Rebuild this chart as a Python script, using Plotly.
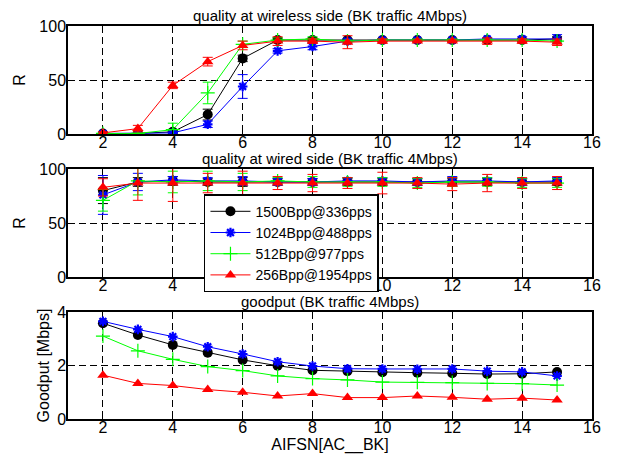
import plotly.graph_objects as go

x = list(range(2, 16))
names = ["1500Bpp@336pps", "1024Bpp@488pps", "512Bpp@977pps", "256Bpp@1954pps"]
colors = ["#000000", "#0000ff", "#00ff00", "#ff0000"]

# quality at wireless side (R)
wl_black = [0.5, 0.5, 2, 18, 70, 87, 87, 87, 87, 87, 87, 87, 87, 88]
wl_blue = [0.5, 0.5, 1, 9, 44, 77, 81, 86, 87, 87, 87, 88, 88, 88]
wl_green = [0.5, 0.5, 4, 38, 83, 87, 88, 86, 87, 87, 87, 87, 87, 86]
wl_red = [1, 5, 45, 67, 82, 86, 86, 85, 86, 86, 86, 86, 86, 85]
wl_black_err = [0.5, 0.5, 1, 5, 3, 2, 2, 1, 1, 1, 1, 1, 1, 2]
wl_blue_err = [0.5, 0.5, 1, 3, 11, 2, 3, 2, 1, 1, 1, 1, 2, 4]
wl_green_err = [0.5, 0.5, 6, 10, 3, 2, 2, 1, 1, 1, 1, 1, 1, 1]
wl_red_err = [1, 3, 3, 4, 4, 4, 2, 6, 2, 1, 1, 3, 2, 3]

# quality at wired side (R)
wd_black = [80, 88, 89, 88, 88, 88, 88, 88, 88, 88, 88, 88, 88, 88]
wd_blue = [76, 88, 90, 89, 89, 88, 88, 89, 89, 88, 89, 89, 88, 89]
wd_green = [71, 89, 88, 89, 88, 89, 88, 88, 88, 87, 88, 88, 87, 87]
wd_red = [83, 87, 87, 87, 87, 87, 87, 87, 87, 87, 86, 87, 87, 87]
wd_black_err = [12, 4, 4, 3, 4, 3, 3, 3, 3, 3, 3, 3, 3, 3]
wd_blue_err = [18, 8, 3, 3, 4, 3, 3, 3, 3, 3, 4, 3, 3, 3]
wd_green_err = [10, 13, 10, 9, 8, 3, 5, 4, 4, 4, 4, 4, 4, 4]
wd_red_err = [8, 16, 17, 9, 11, 6, 8, 5, 10, 5, 6, 8, 5, 6]

# goodput [Mbps]
gp_black = [3.58, 3.14, 2.77, 2.48, 2.21, 1.99, 1.82, 1.79, 1.75, 1.73, 1.71, 1.68, 1.69, 1.76]
gp_blue = [3.65, 3.35, 3.08, 2.70, 2.43, 2.14, 1.98, 1.88, 1.87, 1.86, 1.87, 1.79, 1.76, 1.61]
gp_green = [3.10, 2.55, 2.23, 1.96, 1.81, 1.61, 1.51, 1.46, 1.38, 1.37, 1.36, 1.33, 1.32, 1.27]
gp_red = [1.64, 1.33, 1.25, 1.10, 1.00, 0.86, 0.95, 0.80, 0.80, 0.86, 0.81, 0.74, 0.78, 0.71]

x_ticks = [2, 4, 6, 8, 10, 12, 14, 16]
titles = ["quality at wireless side (BK traffic 4Mbps)",
          "quality at wired side (BK traffic 4Mbps)",
          "goodput (BK traffic 4Mbps)"]

FONT = "Liberation Sans, Arial, sans-serif"
fig = go.Figure()

wl = [(wl_black, wl_black_err), (wl_blue, wl_blue_err), (wl_green, wl_green_err), (wl_red, wl_red_err)]
wd = [(wd_black, wd_black_err), (wd_blue, wd_blue_err), (wd_green, wd_green_err), (wd_red, wd_red_err)]
gp = [gp_black, gp_blue, gp_green, gp_red]


def marker(i):
    if i == 0:
        return dict(symbol="circle", size=10, color=colors[i])
    if i == 1:
        return dict(symbol="asterisk", size=8, color=colors[i], line=dict(color=colors[i], width=2.2))
    if i == 2:
        return dict(symbol="cross-thin", size=10, color=colors[i], line=dict(color=colors[i], width=1.2))
    return dict(symbol="triangle-up", size=10, color=colors[i])


for i in range(4):
    y, e = wl[i]
    fig.add_trace(go.Scatter(x=x, y=y, mode="lines+markers", name=names[i],
                             line=dict(color=colors[i], width=1), marker=marker(i),
                             error_y=dict(type="data", array=e, color=colors[i], thickness=1, width=5),
                             xaxis="x", yaxis="y", showlegend=False))
for i in range(4):
    y, e = wd[i]
    fig.add_trace(go.Scatter(x=x, y=y, mode="lines+markers", name=names[i],
                             line=dict(color=colors[i], width=1), marker=marker(i),
                             error_y=dict(type="data", array=e, color=colors[i], thickness=1, width=5),
                             xaxis="x2", yaxis="y2", showlegend=True))
for i in range(4):
    fig.add_trace(go.Scatter(x=x, y=gp[i], mode="lines+markers", name=names[i],
                             line=dict(color=colors[i], width=1), marker=marker(i),
                             xaxis="x3", yaxis="y3", showlegend=False))

axis_common = dict(showline=True, linecolor="black", linewidth=1.5, mirror=True,
                   showgrid=True, gridcolor="black", griddash="7px,4px", gridwidth=1,
                   zeroline=False, ticks="inside", ticklen=4, tickcolor="black",
                   automargin=False,
                   tickfont=dict(size=16, color="black", family=FONT))

doms = [[0.7252, 1.0], [0.3613, 0.6361], [0.0, 0.2723]]
ytitles = ["R", "R", "Goodput [Mbps]"]
ystand = [10, 10, 4]
yranges = [[0, 100], [0, 100], [0, 4]]
yticks = [[0, 50, 100], [0, 50, 100], [0, 2, 4]]

layout = dict(width=618, height=458, margin=dict(l=68, r=26, t=26, b=39),
              paper_bgcolor="white", plot_bgcolor="white",
              font=dict(family=FONT, color="black"),
              legend=dict(x=0.2595, y=0.572, xanchor="left", yanchor="top",
                          bordercolor="black", borderwidth=1.5, bgcolor="white",
                          font=dict(size=14, family=FONT, color="black"),
                          tracegroupgap=0, itemwidth=40),
              annotations=[])
for k in range(3):
    sx = "xaxis" if k == 0 else f"xaxis{k+1}"
    sy = "yaxis" if k == 0 else f"yaxis{k+1}"
    ax = dict(axis_common, range=[1, 16], tickvals=x_ticks, anchor="y" if k == 0 else f"y{k+1}",
              ticklabelstandoff=-7)
    if k == 2:
        ax["title"] = dict(text="AIFSN[AC__BK]", font=dict(size=16, family=FONT, color="black"), standoff=4)
    layout[sx] = ax
    layout[sy] = dict(axis_common, range=yranges[k], tickvals=yticks[k], domain=doms[k],
                      anchor="x" if k == 0 else f"x{k+1}", ticklabelstandoff=-3,
                      title=dict(text=ytitles[k], font=dict(size=16, family=FONT, color="black"),
                                 standoff=ystand[k]))
    layout["annotations"].append(dict(text=titles[k], xref="paper", yref="paper", x=0.5, y=doms[k][1],
                                      xanchor="center", yanchor="bottom", showarrow=False, yshift=0,
                                      font=dict(size=15, family=FONT, color="black")))

fig.update_layout(**layout)
fig.write_html("out.html", config={"displayModeBar": False},
               post_script="document.body.style.margin='0';document.body.style.overflow='hidden';")
